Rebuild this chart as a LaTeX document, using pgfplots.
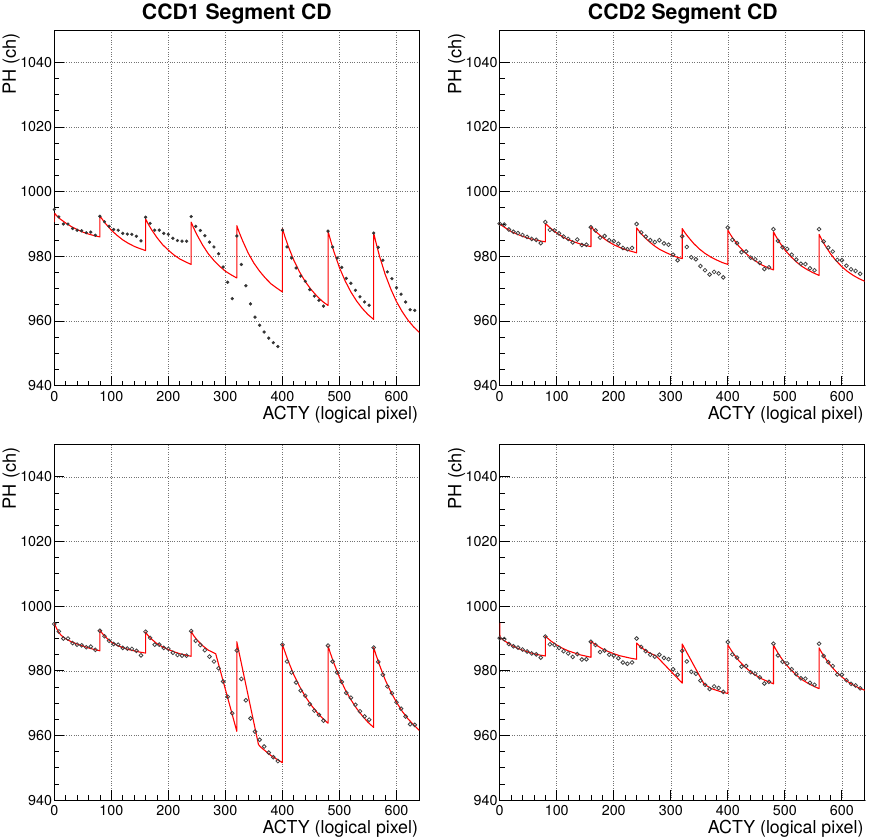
\documentclass[border=0pt]{standalone}
\usepackage{fontspec}
\setmainfont{TeX Gyre Heros}
\usepackage{pgfplots}
\usepackage{pgfplotstable}
\pgfplotsset{compat=1.18}

\pgfplotstableread{
x y
0 994.5
8 992.2
16 990.0
24 990.0
32 988.6
40 988.1
48 987.9
56 987.3
64 987.5
72 986.5
80 992.4
88 990.7
96 989.3
104 988.3
112 988.1
120 987.1
128 986.9
136 986.8
144 986.2
152 984.8
160 992.1
168 990.2
176 988.1
184 988.1
192 987.1
200 986.8
208 985.6
216 984.9
224 984.7
232 984.7
240 992.3
248 989.3
256 988.0
264 986.4
272 984.4
280 982.9
288 980.8
296 976.7
304 972.0
312 966.9
320 986.3
328 977.5
336 970.9
344 965.3
352 961.2
360 958.7
368 956.6
376 954.7
384 953.3
392 952.1
400 988.1
408 982.9
416 979.5
424 976.4
432 973.9
440 972.3
448 969.7
456 967.7
464 966.4
472 964.6
480 987.8
488 982.9
496 979.5
504 976.6
512 973.2
520 971.7
528 969.5
536 967.5
544 965.9
552 964.9
560 987.2
568 982.8
576 978.8
584 975.2
592 973.1
600 970.3
608 968.3
616 965.9
624 963.5
632 963.3
}\dataone

\pgfplotstableread{
x y
0 990.1
8 989.8
16 988.3
24 987.6
32 987.2
40 986.6
48 986.0
56 985.4
64 985.1
72 984.1
80 990.6
88 988.2
96 988.0
104 987.1
112 986.1
120 985.4
128 984.3
136 985.2
144 983.5
152 983.6
160 989.0
168 988.0
176 985.8
184 986.3
192 985.0
200 984.7
208 983.9
216 982.6
224 982.2
232 982.6
240 990.0
248 987.4
256 986.1
264 985.0
272 984.4
280 985.0
288 984.0
296 983.6
304 980.5
312 978.8
320 986.2
328 982.9
336 979.7
344 979.1
352 977.0
360 975.7
368 974.4
376 975.2
384 974.7
392 973.5
400 988.9
408 985.1
416 984.1
424 981.3
432 981.5
440 979.6
448 979.1
456 978.0
464 976.1
472 976.6
480 988.4
488 984.8
496 982.8
504 982.3
512 980.5
520 979.0
528 977.7
536 977.6
544 976.3
552 975.7
560 988.4
568 984.6
576 982.7
584 981.5
592 978.9
600 978.8
608 977.1
616 976.0
624 975.5
632 974.6
}\datatwo

\pgfplotsset{
  rootstyle/.style={
    scale only axis, width=365pt, height=355.7pt,
    anchor=south west,
    xmin=0, xmax=640, ymin=940, ymax=1050,
    xtick={0,100,...,600}, ytick={940,960,...,1040},
    minor x tick num=4, minor y tick num=3,
    tick align=inside, xtick pos=bottom, ytick pos=left,
    major tick length=10pt, minor tick length=5pt,
    grid=major,
    major grid style={dotted, black!55, line width=0.6pt},
    axis line style={line width=0.9pt, black},
    every tick/.style={line width=0.8pt, black},
    /pgf/number format/assume math mode=true,
    /pgf/number format/1000 sep={},
    ticklabel style={font=\fontsize{14.3}{16}\selectfont},
    yticklabel style={inner sep=0pt, xshift=-2pt},
    xticklabel style={inner sep=0pt, yshift=-5pt},
    xlabel={ACTY (logical pixel)},
    ylabel={PH (ch)},
    xlabel style={at={(axis description cs:0.997,-0.057)}, anchor=north east, inner sep=0pt, font=\fontsize{17.8}{20}\selectfont},
    ylabel style={at={(axis description cs:-0.094,0.992)}, anchor=south east, inner sep=0pt, font=\fontsize{18.2}{20}\selectfont},
    clip=true,
  },
  fitline/.style={red, line width=1.1pt, line join=round},
  dotsA/.style={only marks, mark=*, mark size=1.45pt, black!80, mark options={draw=black!80, fill=black!80}},
  circB/.style={only marks, mark=o, mark size=1.9pt, black!75, mark options={line width=0.8pt}},
}

\begin{document}
\begin{tikzpicture}[x=1pt,y=1pt]
\useasboundingbox (0,0) rectangle (872,839);

% Panel 1
\begin{axis}[rootstyle, at={(54.3pt,453.3pt)}]
\addplot[fitline] coordinates {
(0,990.6)(0.8,993.3)(4,992.6)(10,991.6)(20,990.3)(30,989.2)(40,988.3)(50,987.5)(60,986.9)(70,986.4)(80,986.0)
(80,992.5)(84,991.5)(90,990.1)(100,988.1)(110,986.5)(120,985.1)(130,984.0)(140,983.1)(150,982.4)(160,981.8)
(160,991.6)(164,990.2)(170,988.4)(180,985.8)(190,983.6)(200,981.9)(210,980.4)(220,979.2)(230,978.3)(240,977.5)
(240,990.6)(244,988.9)(250,986.7)(260,983.5)(270,980.8)(280,978.7)(290,976.9)(300,975.4)(310,974.3)(320,973.3)
(320,989.5)(324,987.5)(330,984.9)(340,981.0)(350,977.9)(360,975.4)(370,973.3)(380,971.5)(390,970.2)(400,969.0)
(400,988.6)(404,986.3)(410,983.2)(420,978.8)(430,975.2)(440,972.2)(450,969.8)(460,967.8)(470,966.1)(480,964.8)
(480,987.8)(484,985.2)(490,981.6)(500,976.5)(510,972.4)(520,969.0)(530,966.2)(540,963.9)(550,962.0)(560,960.5)
(560,987.2)(564,984.3)(570,980.2)(580,974.5)(590,969.9)(600,966.0)(610,962.9)(620,960.3)(630,958.2)(640,956.5)
};
\addplot[dotsA] table[x=x,y=y] {\dataone};
\end{axis}

% Panel 2
\begin{axis}[rootstyle, at={(499.7pt,453.3pt)}]
\addplot[fitline] coordinates {
(0,990.0)(4,989.5)(10,988.8)(20,987.7)(30,986.9)(40,986.2)(50,985.6)(60,985.2)(70,984.8)(80,984.5)
(80,990.2)(84,989.5)(90,988.6)(100,987.2)(110,986.1)(120,985.2)(130,984.5)(140,983.9)(150,983.4)(160,983.0)
(160,989.2)(164,988.4)(170,987.4)(180,985.9)(190,984.6)(200,983.6)(210,982.8)(220,982.1)(230,981.6)(240,981.1)
(240,988.8)(244,987.9)(250,986.6)(260,984.9)(270,983.4)(280,982.2)(290,981.3)(300,980.5)(310,979.8)(320,979.3)
(320,988.6)(324,987.5)(330,986.1)(340,984.0)(350,982.3)(360,980.9)(370,979.8)(380,978.9)(390,978.1)(400,977.5)
(400,988.1)(404,986.9)(410,985.3)(420,983.0)(430,981.2)(440,979.6)(450,978.4)(460,977.3)(470,976.5)(480,975.8)
(480,987.6)(484,986.3)(490,984.5)(500,982.0)(510,980.0)(520,978.3)(530,976.9)(540,975.8)(550,974.9)(560,974.1)
(560,986.8)(564,985.4)(570,983.5)(580,980.8)(590,978.6)(600,976.8)(610,975.3)(620,974.1)(630,973.1)(640,972.3)
};
\addplot[circB] table[x=x,y=y] {\datatwo};
\end{axis}

% Panel 3
\begin{axis}[rootstyle, at={(54.3pt,38.8pt)}]
\addplot[fitline] coordinates {
(0,994.7)(4,993.1)(8,991.9)(12,991.0)(20,989.9)(30,989.0)(40,988.3)(50,987.7)(60,987.1)(70,986.6)(80,986.2)
(80,992.6)(84,991.6)(90,990.4)(100,988.9)(110,987.9)(120,987.2)(130,986.6)(140,986.2)(150,985.8)(160,985.5)
(160,992.0)(164,991.0)(170,989.9)(180,988.4)(190,987.4)(200,986.6)(210,985.9)(220,985.3)(230,984.9)(240,984.5)
(240,992.2)(244,991.0)(250,989.6)(260,987.8)(270,986.4)(283,985.3)(320,961.3)
(320,989.0)(358,957.2)(362,956.4)(380,953.8)(400,951.6)
(400,988.2)(404,986.1)(410,983.1)(420,978.8)(430,975.2)(440,972.1)(450,969.5)(460,967.3)(470,965.4)(480,963.8)
(480,987.7)(484,985.5)(490,982.5)(500,978.0)(510,974.2)(520,971.1)(530,968.4)(540,966.1)(550,964.1)(560,962.5)
(560,987.2)(564,985.0)(570,981.9)(580,977.3)(590,973.5)(600,970.3)(610,967.5)(620,965.2)(630,963.3)(640,961.6)
};
\addplot[circB] table[x=x,y=y] {\dataone};
\end{axis}

% Panel 4
\begin{axis}[rootstyle, at={(499.7pt,38.8pt)}]
\addplot[fitline] coordinates {
(0,994.8)(0.5,990.4)(4,989.8)(10,989.1)(20,988.0)(30,987.1)(40,986.4)(50,985.8)(60,985.3)(70,984.9)(80,984.6)
(80,990.7)(84,990.1)(90,989.2)(100,988.0)(110,987.0)(120,986.2)(130,985.6)(140,985.0)(150,984.6)(160,984.2)
(160,989.1)(164,988.6)(170,987.9)(180,986.8)(190,986.0)(200,985.3)(210,984.7)(220,984.3)(230,983.9)(240,983.6)
(240,988.6)(244,987.9)(250,987.0)(260,985.8)(275,984.5)(320,976.2)
(320,988.3)(358,976.0)(370,974.6)(385,973.7)(400,973.0)
(400,988.0)(404,986.9)(410,985.3)(420,983.0)(430,981.2)(440,979.7)(450,978.5)(460,977.5)(470,976.7)(480,976.0)
(480,988.0)(484,986.7)(490,984.9)(500,982.4)(510,980.4)(520,978.7)(530,977.3)(540,976.2)(550,975.3)(560,974.5)
(560,987.1)(564,985.8)(570,984.1)(580,981.7)(590,979.7)(600,978.1)(610,976.7)(620,975.6)(630,974.7)(640,974.0)
};
\addplot[circB] table[x=x,y=y] {\datatwo};
\end{axis}

% Titles
\node[anchor=base, inner sep=0pt, font=\bfseries\fontsize{21.2}{24}\selectfont] at (236.8,819) {CCD1 Segment CD};
\node[anchor=base, inner sep=0pt, font=\bfseries\fontsize{21.2}{24}\selectfont] at (682.8,819) {CCD2 Segment CD};
\end{tikzpicture}
\end{document}
